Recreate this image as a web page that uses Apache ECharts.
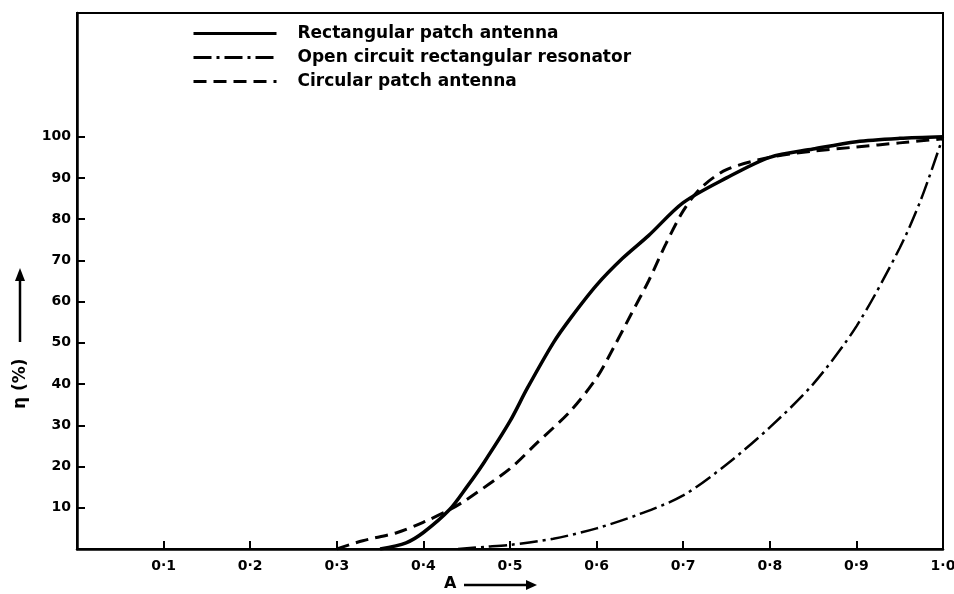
<!DOCTYPE html>
<html>
<head>
<meta charset="utf-8">
<script src="https://cdn.jsdelivr.net/npm/echarts@6/dist/echarts.min.js"></script>
<style>
  html, body { margin: 0; padding: 0; background: #fff; overflow: hidden; }
  #chart { width: 954px; height: 594px; }
</style>
</head>
<body>
<div id="chart"></div>
<script>
// 读图得到的数据 (A, η%)
const rectA = [0.35, 0.38, 0.40, 0.43, 0.45, 0.47, 0.50, 0.52, 0.55, 0.57, 0.60, 0.63, 0.66, 0.70, 0.75, 0.80, 0.85, 0.90, 0.95, 1.0];
const rectEta = [0, 1.5, 4, 9.5, 15, 21, 31, 39, 50, 56, 64, 70.5, 76, 84, 90, 95, 97, 98.8, 99.6, 100];

const openA = [0.44, 0.47, 0.50, 0.55, 0.60, 0.65, 0.70, 0.75, 0.80, 0.85, 0.90, 0.95, 0.975, 1.0];
const openEta = [0, 0.5, 1, 2.5, 5, 8.5, 13, 20.5, 29.5, 40, 54, 73, 85, 100];

const circA = [0.30, 0.33, 0.37, 0.40, 0.43, 0.45, 0.50, 0.53, 0.57, 0.60, 0.62, 0.64, 0.66, 0.68, 0.70, 0.72, 0.75, 0.80, 0.85, 0.90, 0.95, 1.0];
const circEta = [0, 2, 4, 6.5, 9.5, 12, 19.5, 25.5, 33.5, 41.5, 49, 57, 65, 74, 82, 87.5, 92, 95, 96.5, 97.5, 98.5, 99.5];

const seriesNames = ['Rectangular patch antenna', 'Open circuit rectangular resonator', 'Circular patch antenna'];
const yTickValues = [10, 20, 30, 40, 50, 60, 70, 80, 90, 100];

const pair = (xs, ys) => xs.map((x, i) => [x, ys[i]]);
const font = '"DejaVu Sans", sans-serif';
const ink = '#000';

const chart = echarts.init(document.getElementById('chart'));

function mkSeries(name, data, type, width) {
  return {
    name: name,
    type: 'line',
    data: data,
    smooth: 0.3,
    symbol: 'none',
    lineStyle: { color: ink, width: width, type: type },
    itemStyle: { color: ink }
  };
}

chart.setOption({
  animation: false,
  backgroundColor: '#fff',
  grid: {
    left: 77, right: 11, top: 13, bottom: 45,
    outerBoundsMode: 'none',
    containLabel: false,
    show: true, borderColor: ink, borderWidth: 2
  },
  legend: {
    orient: 'vertical',
    left: 192, top: 25, padding: 0,
    itemWidth: 83, itemHeight: 12, itemGap: 7,
    itemStyle: { opacity: 0 },
    lineStyle: { width: 3 },
    data: seriesNames,
    textStyle: { fontFamily: font, fontWeight: 'bold', fontSize: 17, color: ink, padding: [0, 0, 0, 16] }
  },
  xAxis: {
    type: 'value', min: 0, max: 1, interval: 0.1,
    axisLine: { lineStyle: { color: ink, width: 2.5 } },
    axisTick: { inside: true, length: 8, lineStyle: { color: ink, width: 2 } },
    splitLine: { show: false },
    axisLabel: {
      color: ink, fontFamily: font, fontWeight: 'bold', fontSize: 14, margin: 10,
      formatter: v => (v === 0 ? '' : v.toFixed(1).replace('.', '·'))
    }
  },
  yAxis: {
    type: 'value', min: 0, max: 130, interval: 10,
    axisLine: { lineStyle: { color: ink, width: 2.5 } },
    axisTick: { inside: true, length: 8, customValues: yTickValues, lineStyle: { color: ink, width: 2 } },
    splitLine: { show: false },
    axisLabel: {
      color: ink, fontFamily: font, fontWeight: 'bold', fontSize: 14, margin: 6,
      customValues: yTickValues
    }
  },
  graphic: [
    // y 轴名称及箭头
    { type: 'text', x: 12, y: 409, rotation: Math.PI / 2,
      style: { text: 'η (%)', font: 'bold 17px ' + font, fill: ink } },
    { type: 'line', shape: { x1: 20, y1: 342, x2: 20, y2: 278 },
      style: { stroke: ink, lineWidth: 2.5 } },
    { type: 'polygon', shape: { points: [[15, 281], [25, 281], [20, 268]] },
      style: { fill: ink } },
    // x 轴名称及箭头
    { type: 'text', x: 444, y: 576,
      style: { text: 'A', font: 'bold 16px ' + font, fill: ink } },
    { type: 'line', shape: { x1: 464, y1: 585, x2: 528, y2: 585 },
      style: { stroke: ink, lineWidth: 2.5 } },
    { type: 'polygon', shape: { points: [[526, 580], [526, 590], [537, 585]] },
      style: { fill: ink } }
  ],
  series: [
    mkSeries(seriesNames[0], pair(rectA, rectEta), 'solid', 3.5),
    mkSeries(seriesNames[1], pair(openA, openEta), [18, 5, 3, 5], 2.5),
    mkSeries(seriesNames[2], pair(circA, circEta), [13, 7], 3)
  ]
});
</script>
</body>
</html>
